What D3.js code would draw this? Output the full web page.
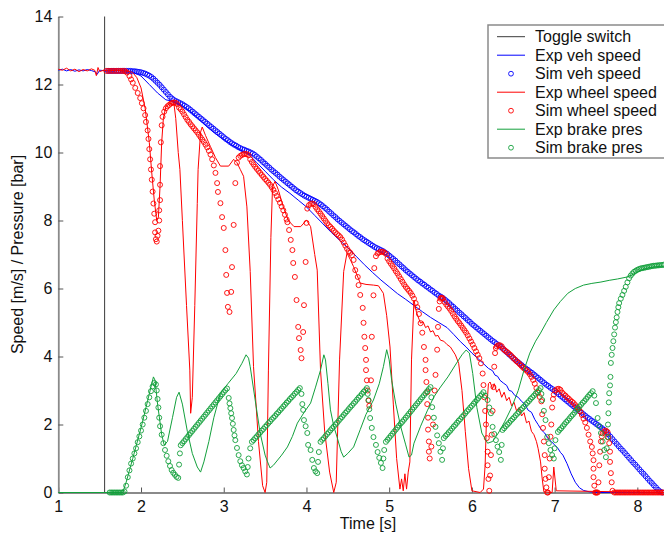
<!DOCTYPE html>
<html><head><meta charset="utf-8">
<script src="https://cdn.jsdelivr.net/npm/d3@7"></script>
<style>body{margin:0;background:#fff}svg{display:block}text{font-family:"Liberation Sans",Arial,sans-serif}</style>
</head><body><div id="chart"></div>
<script>
// ---------- DATA ----------
const xTicks = [1,2,3,4,5,6,7,8];
const yTicks = [0,2,4,6,8,10,12,14];
const legendLabels = ["Toggle switch","Exp veh speed","Sim veh speed","Exp wheel speed","Sim wheel speed","Exp brake pres","Sim brake pres"];
const toggleTime = 1.56;

const expVeh = [[1.0,12.42],[1.05,12.45],[1.1,12.40],[1.15,12.44],[1.2,12.39],[1.25,12.43],[1.3,12.40],[1.35,12.44],[1.4,12.41],[1.45,12.37],[1.47,12.30],[1.5,12.42],[1.6,12.40],[1.7,12.41],[1.8,12.40],[1.9,12.37],[2.0,12.25],[2.1,12.0],[2.2,11.75],[2.3,11.55],[2.4,11.5],[2.5,11.38],[2.6,11.2],[2.7,10.98],[2.8,10.75],[2.9,10.55],[3.0,10.38],[3.1,10.22],[3.2,10.08],[3.3,9.95],[3.4,9.7],[3.5,9.45],[3.6,9.2],[3.7,8.98],[3.8,8.8],[3.9,8.6],[4.0,8.4],[4.1,8.15],[4.2,7.9],[4.3,7.65],[4.4,7.42],[4.5,7.2],[4.6,6.95],[4.7,6.7],[4.8,6.47],[4.9,6.25],[5.0,6.05],[5.1,5.85],[5.2,5.68],[5.3,5.5],[5.4,5.32],[5.5,5.15],[5.6,5.0],[5.7,4.85],[5.78,4.65],[5.86,4.44],[5.93,4.28],[6.0,4.1],[6.1,3.88],[6.2,3.65],[6.25,3.58],[6.28,3.45],[6.31,3.42],[6.34,3.3],[6.38,3.22],[6.42,3.15],[6.45,3.0],[6.48,2.98],[6.52,2.85],[6.56,2.8],[6.6,2.68],[6.64,2.6],[6.68,2.42],[6.72,2.36],[6.76,2.15],[6.8,2.0],[6.84,1.84],[6.88,1.75],[6.92,1.58],[6.96,1.5],[7.0,1.4],[7.04,1.3],[7.07,1.18],[7.1,1.1],[7.15,0.85],[7.2,0.55],[7.25,0.3],[7.3,0.14],[7.35,0.06],[7.42,0.02],[7.5,0],[8.33,0]];

const simVeh = [[1.600,12.40],[1.625,12.40],[1.650,12.40],[1.675,12.40],[1.700,12.40],[1.725,12.40],[1.750,12.40],[1.775,12.40],[1.800,12.40],[1.825,12.40],[1.850,12.40],[1.875,12.40],[1.900,12.39],[1.925,12.39],[1.950,12.38],[1.975,12.37],[2.000,12.36],[2.025,12.34],[2.050,12.32],[2.075,12.29],[2.100,12.26],[2.125,12.22],[2.150,12.17],[2.175,12.11],[2.200,12.05],[2.225,11.99],[2.250,11.92],[2.275,11.85],[2.300,11.78],[2.325,11.71],[2.350,11.64],[2.375,11.59],[2.400,11.54],[2.425,11.51],[2.450,11.48],[2.475,11.45],[2.500,11.42],[2.525,11.38],[2.550,11.34],[2.575,11.30],[2.600,11.25],[2.625,11.20],[2.650,11.15],[2.675,11.10],[2.700,11.05],[2.725,11.00],[2.750,10.95],[2.775,10.90],[2.800,10.85],[2.825,10.80],[2.850,10.75],[2.875,10.70],[2.900,10.65],[2.925,10.60],[2.950,10.55],[2.975,10.50],[3.000,10.45],[3.025,10.40],[3.050,10.36],[3.075,10.31],[3.100,10.27],[3.125,10.23],[3.150,10.20],[3.175,10.16],[3.200,10.13],[3.225,10.10],[3.250,10.08],[3.275,10.05],[3.300,10.03],[3.325,10.00],[3.350,9.97],[3.375,9.93],[3.400,9.88],[3.425,9.83],[3.450,9.78],[3.475,9.72],[3.500,9.67],[3.525,9.61],[3.550,9.56],[3.575,9.50],[3.600,9.45],[3.625,9.40],[3.650,9.35],[3.675,9.29],[3.700,9.24],[3.725,9.19],[3.750,9.14],[3.775,9.09],[3.800,9.04],[3.825,8.99],[3.850,8.94],[3.875,8.89],[3.900,8.85],[3.925,8.81],[3.950,8.77],[3.975,8.73],[4.000,8.70],[4.025,8.67],[4.050,8.64],[4.075,8.61],[4.100,8.58],[4.125,8.55],[4.150,8.51],[4.175,8.47],[4.200,8.42],[4.225,8.37],[4.250,8.32],[4.275,8.26],[4.300,8.21],[4.325,8.15],[4.350,8.10],[4.375,8.04],[4.400,7.99],[4.425,7.94],[4.450,7.89],[4.475,7.84],[4.500,7.79],[4.525,7.74],[4.550,7.69],[4.575,7.65],[4.600,7.60],[4.625,7.55],[4.650,7.51],[4.675,7.46],[4.700,7.42],[4.725,7.38],[4.750,7.34],[4.775,7.30],[4.800,7.26],[4.825,7.22],[4.850,7.19],[4.875,7.16],[4.900,7.13],[4.925,7.10],[4.950,7.06],[4.975,7.02],[5.000,6.97],[5.025,6.92],[5.050,6.87],[5.075,6.82],[5.100,6.76],[5.125,6.71],[5.150,6.65],[5.175,6.60],[5.200,6.54],[5.225,6.49],[5.250,6.44],[5.275,6.39],[5.300,6.34],[5.325,6.29],[5.350,6.24],[5.375,6.20],[5.400,6.15],[5.425,6.11],[5.450,6.06],[5.475,6.02],[5.500,5.97],[5.525,5.93],[5.550,5.88],[5.575,5.84],[5.600,5.79],[5.625,5.76],[5.650,5.72],[5.675,5.67],[5.700,5.62],[5.725,5.57],[5.750,5.51],[5.775,5.46],[5.800,5.40],[5.825,5.35],[5.850,5.29],[5.875,5.24],[5.900,5.18],[5.925,5.13],[5.950,5.07],[5.975,5.02],[6.000,4.96],[6.025,4.91],[6.050,4.86],[6.075,4.81],[6.100,4.76],[6.125,4.71],[6.150,4.66],[6.175,4.61],[6.200,4.56],[6.225,4.51],[6.250,4.46],[6.275,4.42],[6.300,4.37],[6.325,4.33],[6.350,4.28],[6.375,4.23],[6.400,4.17],[6.425,4.12],[6.450,4.06],[6.475,4.01],[6.500,3.95],[6.525,3.90],[6.550,3.85],[6.575,3.80],[6.600,3.75],[6.625,3.70],[6.650,3.65],[6.675,3.61],[6.700,3.56],[6.725,3.52],[6.750,3.47],[6.775,3.42],[6.800,3.37],[6.825,3.32],[6.850,3.27],[6.875,3.22],[6.900,3.17],[6.925,3.13],[6.950,3.08],[6.975,3.04],[7.000,2.99],[7.025,2.94],[7.050,2.89],[7.075,2.84],[7.100,2.79],[7.125,2.74],[7.150,2.69],[7.175,2.64],[7.200,2.59],[7.225,2.54],[7.250,2.49],[7.275,2.44],[7.300,2.39],[7.325,2.35],[7.350,2.30],[7.375,2.25],[7.400,2.20],[7.425,2.16],[7.450,2.11],[7.475,2.07],[7.500,2.02],[7.525,1.98],[7.550,1.93],[7.575,1.89],[7.600,1.84],[7.625,1.78],[7.650,1.71],[7.675,1.64],[7.700,1.57],[7.725,1.50],[7.750,1.43],[7.775,1.36],[7.800,1.29],[7.825,1.23],[7.850,1.16],[7.875,1.09],[7.900,1.02],[7.925,0.95],[7.950,0.88],[7.975,0.82],[8.000,0.75],[8.025,0.68],[8.050,0.61],[8.075,0.55],[8.100,0.48],[8.125,0.41],[8.150,0.34],[8.175,0.28],[8.200,0.21],[8.225,0.15],[8.250,0.08],[8.275,0.03],[8.300,0.00]];

const expWheel = [[1.0,12.45],[1.05,12.42],[1.1,12.48],[1.15,12.40],[1.2,12.45],[1.25,12.38],[1.3,12.44],[1.35,12.40],[1.4,12.46],[1.44,12.42],[1.46,12.26],[1.48,12.50],[1.5,12.38],[1.55,12.42],[1.6,12.40],[1.7,12.42],[1.8,12.40],[1.87,12.38],[1.9,12.35],[1.95,12.2],[2.0,11.9],[2.05,11.3],[2.1,10.3],[2.13,9.4],[2.16,8.6],[2.19,8.0],[2.21,8.1],[2.23,9.0],[2.25,10.3],[2.27,11.0],[2.3,11.35],[2.35,11.45],[2.4,11.4],[2.42,11.0],[2.45,10.0],[2.47,9.5],[2.5,8.0],[2.55,5.5],[2.59,3.6],[2.6,2.33],[2.62,2.8],[2.65,5.5],[2.68,8.5],[2.69,9.5],[2.72,10.6],[2.74,10.75],[2.78,10.5],[2.84,10.17],[2.9,9.85],[2.96,9.6],[3.06,9.6],[3.12,9.8],[3.16,9.7],[3.2,9.5],[3.24,9.3],[3.28,8.4],[3.32,6.5],[3.36,3.7],[3.42,1.5],[3.47,0.2],[3.5,0],[3.52,0.3],[3.54,3.6],[3.57,7.5],[3.59,9.0],[3.62,9.15],[3.66,8.9],[3.72,8.4],[3.78,8.0],[3.85,7.82],[3.93,7.82],[4.0,8.01],[4.05,7.82],[4.1,7.0],[4.13,6.54],[4.17,3.6],[4.22,1.8],[4.28,0.6],[4.33,0],[4.36,0.3],[4.4,3.9],[4.45,6.5],[4.49,7.04],[4.53,6.85],[4.57,6.64],[4.65,6.16],[4.72,6.12],[4.81,6.1],[4.87,6.08],[4.93,5.86],[4.97,5.2],[5.01,4.28],[5.05,2.6],[5.09,1.0],[5.13,0.1],[5.15,0.4],[5.17,0.05],[5.19,0.55],[5.21,0.1],[5.23,0.6],[5.25,0.9],[5.27,3.9],[5.3,5.66],[5.33,5.3],[5.36,5.1],[5.38,4.98],[5.41,5.02],[5.44,4.85],[5.47,4.9],[5.5,4.72],[5.53,4.76],[5.56,4.6],[5.59,4.62],[5.62,4.48],[5.66,4.45],[5.7,4.35],[5.74,4.28],[5.8,4.05],[5.84,3.8],[5.88,3.0],[5.92,1.8],[5.96,0.7],[6.0,0.05],[6.1,0],[6.14,0.1],[6.16,0.8],[6.18,2.5],[6.2,3.2],[6.22,3.25],[6.25,3.05],[6.27,3.2],[6.3,2.95],[6.33,3.05],[6.36,2.8],[6.39,2.95],[6.42,2.7],[6.45,2.8],[6.48,2.55],[6.51,2.65],[6.54,2.4],[6.57,2.5],[6.6,2.25],[6.63,2.35],[6.66,2.05],[6.69,2.1],[6.72,1.8],[6.75,1.7],[6.78,1.5],[6.8,1.3],[6.83,0.9],[6.85,0.4],[6.87,0.02],[6.97,0],[6.99,0.75],[7.02,0.05],[8.33,0]];

const simWheel = [[1.58,12.4],[1.61,12.4],[1.64,12.4],[1.67,12.4],[1.70,12.4],[1.73,12.4],[1.76,12.4],[1.79,12.4],[1.81,12.39],
[1.83,12.35],[1.86,12.25],[1.88,12.15],[1.90,12.05],[1.93,11.9],[1.96,11.75],[1.99,11.6],[2.01,11.45],[2.03,11.3],[2.05,11.1],[2.06,10.9],[2.08,10.65],[2.09,10.4],[2.10,10.1],[2.11,9.8],[2.12,9.5],[2.13,9.2],[2.14,8.85],[2.15,8.5],[2.16,8.2],[2.17,7.95],[2.17,7.65],[2.18,7.45],[2.19,7.38],[2.20,7.55],[2.21,7.7],[2.22,8.0],[2.22,8.3],[2.23,8.6],[2.23,9.05],[2.23,9.6],[2.24,10.3],[2.25,10.8],[2.26,11.05],[2.28,11.2],[2.30,11.3],[2.32,11.36],[2.34,11.4],[2.36,11.44],[2.38,11.46],[2.40,11.47],[2.42,11.46],[2.44,11.42],
[2.46,11.32],[2.48,11.27],[2.50,11.2],[2.52,11.12],[2.54,11.04],[2.56,10.96],[2.58,10.9],[2.60,10.83],[2.62,10.77],[2.64,10.71],[2.66,10.65],[2.68,10.59],[2.70,10.52],[2.72,10.45],[2.74,10.38],[2.76,10.31],[2.78,10.23],[2.80,10.15],[2.82,10.05],[2.84,9.94],[2.86,9.8],[2.88,9.62],[2.90,9.4],[2.92,9.1],[2.93,8.84],[2.96,8.51],[2.98,8.1],[3.00,7.78],[3.02,7.13],[3.03,6.4],[3.04,5.87],[3.05,5.46],[3.07,5.31],[3.09,5.9],[3.10,6.63],[3.12,7.87],[3.14,9.1],[3.16,9.7],[3.18,9.85],[3.20,9.9],[3.22,9.93],[3.24,9.95],[3.26,9.96],[3.28,9.95],[3.30,9.92],
[3.32,9.8],[3.34,9.72],[3.36,9.65],[3.38,9.58],[3.40,9.52],[3.42,9.46],[3.44,9.4],[3.46,9.34],[3.48,9.28],[3.50,9.22],[3.52,9.17],[3.54,9.11],[3.56,9.05],[3.58,8.98],[3.60,8.9],[3.62,8.81],[3.64,8.72],[3.66,8.62],[3.68,8.52],[3.70,8.41],[3.72,8.3],[3.74,8.17],[3.76,8.03],[3.77,7.95],[3.79,7.72],[3.81,7.43],[3.83,7.13],[3.84,6.75],[3.86,6.34],[3.88,5.66],[3.90,4.87],[3.91,4.54],[3.93,4.19],[3.94,3.95],[3.96,4.72],[3.97,5.51],[3.99,6.78],[4.00,7.93],[4.01,8.35],[4.03,8.45],[4.05,8.49],[4.07,8.5],[4.09,8.48],
[4.11,8.4],[4.13,8.33],[4.15,8.27],[4.17,8.2],[4.19,8.13],[4.21,8.06],[4.23,7.99],[4.25,7.92],[4.27,7.86],[4.29,7.81],[4.31,7.76],[4.33,7.7],[4.35,7.65],[4.37,7.6],[4.39,7.56],[4.41,7.51],[4.43,7.44],[4.45,7.35],[4.47,7.26],[4.49,7.17],[4.51,7.1],[4.53,7.05],[4.55,6.98],[4.57,6.84],[4.59,6.54],[4.62,6.34],[4.63,6.1],[4.65,5.81],[4.68,5.43],[4.69,4.99],[4.70,4.58],[4.71,4.25],[4.72,3.9],[4.72,3.6],[4.73,3.3],[4.74,3.0],[4.75,2.7],[4.76,2.55],[4.78,3.3],[4.79,4.58],[4.81,5.8],[4.82,6.6],[4.84,6.95],[4.86,7.03],[4.88,7.06],[4.90,7.08],[4.92,7.08],[4.94,7.06],[4.96,7.02],
[4.98,6.88],[5.00,6.80],[5.02,6.73],[5.04,6.66],[5.06,6.59],[5.08,6.51],[5.10,6.44],[5.12,6.36],[5.14,6.28],[5.16,6.2],[5.18,6.12],[5.20,6.05],[5.22,5.99],[5.24,5.93],[5.26,5.87],[5.28,5.79],[5.30,5.7],[5.32,5.57],[5.34,5.45],[5.36,5.25],[5.38,4.98],[5.40,4.7],[5.42,4.28],[5.44,3.9],[5.44,3.6],[5.45,3.25],[5.46,2.95],[5.46,2.6],[5.47,2.2],[5.47,1.85],[5.48,1.5],[5.48,1.2],[5.49,1.0],[5.51,1.35],[5.53,2.0],[5.55,3.0],[5.56,3.46],[5.58,4.2],[5.59,4.87],[5.60,5.4],[5.61,5.62],[5.62,5.7],[5.63,5.73],[5.64,5.72],
[5.65,5.70],[5.67,5.6],[5.69,5.53],[5.71,5.47],[5.73,5.41],[5.75,5.34],[5.77,5.26],[5.79,5.18],[5.81,5.11],[5.83,5.04],[5.85,4.98],[5.87,4.91],[5.89,4.84],[5.91,4.77],[5.93,4.7],[5.95,4.62],[5.97,4.53],[5.99,4.44],[6.01,4.35],[6.03,4.25],[6.05,4.15],[6.07,4.05],[6.09,3.95],[6.11,3.8],[6.13,3.5],[6.14,3.16],[6.15,2.8],[6.16,2.4],[6.17,2.0],[6.18,1.6],[6.19,1.2],[6.19,0.8],[6.20,0.4],[6.21,0.05],[6.22,0.5],[6.23,1.1],[6.24,1.7],[6.25,2.4],[6.26,3.1],[6.27,3.7],[6.28,4.1],[6.29,4.25],[6.30,4.3],[6.32,4.33],[6.34,4.33],
[6.36,4.3],[6.38,4.22],[6.40,4.18],[6.42,4.14],[6.44,4.1],[6.46,4.06],[6.48,4.01],[6.50,3.96],[6.52,3.91],[6.54,3.86],[6.56,3.82],[6.58,3.77],[6.60,3.72],[6.62,3.67],[6.64,3.63],[6.66,3.59],[6.68,3.54],[6.70,3.48],[6.72,3.4],[6.74,3.31],[6.76,3.2],[6.78,3.07],[6.80,2.94],[6.82,2.81],[6.84,2.68],[6.85,2.3],[6.86,1.9],[6.87,1.5],[6.88,1.1],[6.88,0.7],[6.89,0.4],[6.90,0.15],[6.91,0.0],[6.92,0.0],[6.93,0.45],[6.94,1.0],[6.95,1.64],[6.96,2.0],[6.97,2.5],[6.98,2.75],[6.99,2.88],[7.01,3.0],[7.03,3.04],[7.05,3.05],
[7.07,3.02],[7.09,2.94],[7.11,2.89],[7.13,2.85],[7.15,2.8],[7.17,2.76],[7.19,2.71],[7.21,2.67],[7.23,2.63],[7.25,2.57],[7.27,2.51],[7.29,2.45],[7.31,2.38],[7.33,2.28],[7.35,2.17],[7.37,2.06],[7.39,1.9],[7.41,1.7],[7.43,1.5],[7.45,1.34],[7.46,1.15],[7.47,0.95],[7.47,0.7],[7.47,0.45],[7.48,0.2],[7.49,0],[7.50,0],[7.51,0],[7.52,0],[7.53,0.3],[7.54,0.8],[7.55,1.2],[7.56,1.5],[7.57,1.65],[7.58,1.74],[7.60,1.8],[7.62,1.82],[7.64,1.78],
[7.65,1.62],[7.66,1.45],[7.67,1.2],[7.67,0.9],[7.68,0.57],[7.69,0.3],[7.70,0.05],[7.72,0],[7.74,0],[7.76,0],[7.78,0],[7.80,0],[7.82,0],[7.84,0],[7.86,0],[7.88,0],[7.90,0],[7.92,0],[7.94,0],[7.96,0],[7.98,0],[8.00,0],[8.02,0],[8.04,0],[8.06,0],[8.08,0],[8.10,0],[8.12,0],[8.14,0],[8.16,0],[8.18,0],[8.20,0],[8.22,0],[8.24,0],[8.26,0],[8.28,0],[8.30,0],[8.32,0]];

const expBrake = [[1.0,0],[1.78,0],[1.82,0.3],[1.9,1.0],[2.0,1.9],[2.1,2.9],[2.15,3.4],[2.17,3.3],[2.2,2.6],[2.25,1.7],[2.28,1.4],[2.32,1.5],[2.38,2.2],[2.43,2.8],[2.46,2.95],[2.5,2.6],[2.56,1.8],[2.62,1.15],[2.68,0.75],[2.72,0.6],[2.76,0.9],[2.82,1.5],[2.88,2.2],[2.96,2.92],[3.05,3.2],[3.15,3.5],[3.22,3.8],[3.27,4.05],[3.3,3.95],[3.32,3.7],[3.38,2.72],[3.44,1.75],[3.5,1.1],[3.53,0.9],[3.56,0.72],[3.6,0.8],[3.7,1.1],[3.77,1.34],[3.83,1.65],[3.89,2.04],[3.97,2.35],[4.05,2.63],[4.11,3.1],[4.17,3.6],[4.21,4.05],[4.23,3.9],[4.26,3.2],[4.29,2.43],[4.33,1.95],[4.37,1.63],[4.42,1.2],[4.45,1.04],[4.5,1.15],[4.57,1.34],[4.65,1.85],[4.72,2.3],[4.81,2.72],[4.88,3.2],[4.93,3.7],[4.97,4.2],[5.0,3.9],[5.03,3.3],[5.08,2.6],[5.14,1.93],[5.2,1.4],[5.24,1.04],[5.27,1.1],[5.3,1.45],[5.38,1.95],[5.46,2.4],[5.54,2.81],[5.62,3.1],[5.71,3.4],[5.8,3.75],[5.88,4.05],[5.93,4.19],[5.97,4.1],[6.01,3.5],[6.06,2.5],[6.12,1.75],[6.19,1.45],[6.25,1.5],[6.32,1.75],[6.4,2.1],[6.48,2.5],[6.56,3.0],[6.63,3.6],[6.7,4.1],[6.77,4.45],[6.83,4.69],[6.9,5.0],[6.99,5.37],[7.07,5.62],[7.16,5.86],[7.25,6.0],[7.35,6.1],[7.45,6.15],[7.56,6.19],[7.66,6.24],[7.76,6.28],[7.88,6.34],[7.95,6.42],[8.03,6.52],[8.12,6.6],[8.22,6.64],[8.33,6.66]];

const simBrake = [[1.62,0],[1.64,0],[1.66,0],[1.68,0],[1.70,0],[1.72,0],[1.74,0],[1.76,0],[1.78,0],[1.80,0.03],
[1.82,0.2],[1.84,0.45],[1.86,0.65],[1.88,0.85],[1.90,1.0],[1.92,1.15],[1.94,1.3],[1.96,1.48],[1.98,1.65],[2.00,1.82],[2.02,2.0],[2.04,2.2],[2.06,2.4],[2.08,2.6],[2.10,2.8],[2.12,2.98],[2.14,3.12],[2.16,3.22],[2.18,3.18],
[2.19,3.0],[2.20,2.75],[2.21,2.5],[2.22,2.2],[2.23,1.95],[2.25,1.7],[2.27,1.45],[2.29,1.25],[2.31,1.08],[2.33,0.92],[2.35,0.78],[2.37,0.66],[2.39,0.58],[2.41,0.52],[2.43,0.46],[2.45,0.43],[2.46,0.82],[2.47,1.15],
[2.48,1.39],[2.50,1.45],[2.52,1.51],[2.54,1.57],[2.56,1.63],[2.58,1.69],[2.60,1.75],[2.62,1.81],[2.64,1.87],[2.66,1.93],[2.68,1.99],[2.70,2.05],[2.72,2.11],[2.74,2.17],[2.76,2.23],[2.78,2.29],[2.80,2.35],[2.82,2.41],[2.84,2.47],[2.86,2.53],[2.88,2.59],[2.90,2.65],[2.92,2.71],[2.94,2.77],[2.96,2.83],[2.98,2.89],[3.00,2.95],[3.02,3.01],[3.04,3.06],
[3.06,2.78],[3.07,2.62],[3.08,2.48],[3.09,2.33],[3.10,2.19],[3.11,2.02],[3.12,1.84],[3.13,1.68],[3.14,1.54],[3.16,1.31],[3.18,1.1],[3.20,0.92],[3.22,0.8],[3.24,0.72],[3.26,0.62],[3.28,0.53],[3.29,0.75],[3.30,1.0],[3.32,1.3],
[3.34,1.49],[3.36,1.54],[3.38,1.60],[3.40,1.65],[3.42,1.71],[3.44,1.76],[3.46,1.82],[3.48,1.87],[3.50,1.93],[3.52,1.98],[3.54,2.04],[3.56,2.09],[3.58,2.15],[3.60,2.20],[3.62,2.25],[3.64,2.31],[3.66,2.36],[3.68,2.42],[3.70,2.47],[3.72,2.53],[3.74,2.58],[3.76,2.64],[3.78,2.69],[3.80,2.75],[3.82,2.80],[3.84,2.85],[3.86,2.91],[3.88,2.96],[3.90,3.02],[3.92,3.07],
[3.94,2.9],[3.95,2.6],[3.96,2.43],[3.97,2.13],[3.99,1.95],[4.01,1.75],[4.02,1.4],[4.05,1.25],[4.07,0.96],[4.09,0.72],[4.11,0.62],[4.13,0.57],[4.14,0.9],[4.15,1.19],
[4.17,1.49],[4.19,1.55],[4.21,1.60],[4.23,1.66],[4.25,1.72],[4.27,1.77],[4.29,1.83],[4.31,1.89],[4.33,1.94],[4.35,2.00],[4.37,2.05],[4.39,2.11],[4.41,2.17],[4.43,2.22],[4.45,2.28],[4.47,2.34],[4.49,2.39],[4.51,2.45],[4.53,2.51],[4.55,2.56],[4.57,2.62],[4.59,2.67],[4.61,2.73],[4.63,2.79],[4.65,2.84],[4.67,2.90],[4.69,2.96],[4.71,3.01],[4.73,3.07],
[4.74,2.9],[4.75,2.72],[4.76,2.45],[4.77,2.19],[4.79,1.9],[4.81,1.63],[4.84,1.4],[4.86,1.19],[4.88,1.02],[4.90,0.87],[4.92,0.72],[4.93,1.0],[4.94,1.25],
[4.96,1.49],[4.98,1.55],[5.00,1.61],[5.02,1.67],[5.04,1.73],[5.06,1.79],[5.08,1.85],[5.10,1.91],[5.12,1.97],[5.14,2.03],[5.16,2.08],[5.18,2.14],[5.20,2.20],[5.22,2.26],[5.24,2.32],[5.26,2.38],[5.28,2.44],[5.30,2.50],[5.32,2.56],[5.34,2.62],[5.36,2.68],[5.38,2.74],[5.40,2.80],[5.42,2.86],[5.44,2.92],[5.46,2.98],[5.48,3.04],[5.50,3.10],
[5.51,2.8],[5.52,2.51],[5.54,2.2],[5.56,1.93],[5.58,1.68],[5.60,1.45],[5.62,1.2],[5.64,0.96],[5.65,1.3],
[5.66,1.60],[5.68,1.66],[5.70,1.71],[5.72,1.77],[5.74,1.82],[5.76,1.88],[5.78,1.94],[5.80,1.99],[5.82,2.05],[5.84,2.11],[5.86,2.16],[5.88,2.22],[5.90,2.27],[5.92,2.33],[5.94,2.39],[5.96,2.44],[5.98,2.50],[6.00,2.55],[6.02,2.61],[6.04,2.67],[6.06,2.72],[6.08,2.78],[6.10,2.84],[6.12,2.89],[6.14,2.95],
[6.16,2.85],[6.19,2.72],[6.21,2.5],[6.23,2.33],[6.25,1.93],[6.27,1.72],[6.29,1.54],[6.31,1.35],[6.33,1.19],[6.35,0.96],[6.36,1.4],
[6.37,1.84],[6.39,1.89],[6.41,1.95],[6.43,2.00],[6.45,2.05],[6.47,2.11],[6.49,2.16],[6.51,2.21],[6.53,2.27],[6.55,2.32],[6.57,2.37],[6.59,2.43],[6.61,2.48],[6.63,2.53],[6.65,2.59],[6.67,2.64],[6.69,2.69],[6.71,2.75],[6.73,2.80],[6.75,2.85],[6.77,2.91],[6.79,2.96],[6.81,3.01],[6.83,3.07],
[6.84,2.9],[6.85,2.72],[6.87,2.4],[6.89,2.13],[6.91,1.63],[6.93,1.45],[6.95,1.25],[6.97,1.1],[6.99,1.0],[7.00,1.3],[7.01,1.54],
[7.04,1.78],[7.06,1.84],[7.08,1.89],[7.10,1.95],[7.12,2.01],[7.14,2.07],[7.16,2.12],[7.18,2.18],[7.20,2.24],[7.22,2.29],[7.24,2.35],[7.26,2.41],[7.28,2.47],[7.30,2.52],[7.32,2.58],[7.34,2.64],[7.36,2.69],[7.38,2.75],[7.40,2.81],[7.42,2.87],[7.44,2.92],[7.46,2.98],
[7.48,2.85],[7.50,2.63],[7.52,2.19],[7.54,1.95],[7.56,1.75],[7.58,1.5],[7.60,1.25],[7.62,1.04],
[7.63,1.3],[7.64,1.63],[7.645,2.0],[7.65,2.33],[7.655,2.65],[7.66,2.92],[7.67,3.15],[7.675,3.4],[7.68,3.81],[7.69,4.05],[7.70,4.25],[7.71,4.45],[7.72,4.65],[7.73,4.85],[7.74,5.01],[7.75,5.15],[7.76,5.31],[7.77,5.45],[7.78,5.57],[7.80,5.7],[7.82,5.81],[7.84,5.93],[7.86,6.05],[7.88,6.18],[7.90,6.3],[7.92,6.38],[7.94,6.44],[7.96,6.49],[7.98,6.52],[8.00,6.55],[8.02,6.57],[8.04,6.59],[8.06,6.6],[8.08,6.61],[8.10,6.62],[8.12,6.63],[8.14,6.64],[8.16,6.65],[8.18,6.66],[8.20,6.67],[8.22,6.67],[8.24,6.68],[8.26,6.68],[8.28,6.69],[8.30,6.69],[8.32,6.7]];

// ---------- CHART ----------
const W = 664, H = 535;
const COL = {toggle:"#3a3a3a", blue:"#0000ff", red:"#ff0000", green:"#13a03c"};
const FONT = '"Liberation Sans",Arial,sans-serif';
const svg = d3.select("#chart").append("svg").attr("width", W).attr("height", H);
const x = d3.scaleLinear().domain([1, 8.5]).range([58.3, 678.7]);
const y = d3.scaleLinear().domain([0, 14]).range([492.5, 16.5]);

const gx = svg.append("g").attr("transform", `translate(0,${y(0)})`)
  .call(d3.axisBottom(x).tickValues(xTicks).tickFormat(d3.format("d")).tickSizeInner(-5).tickSizeOuter(0).tickPadding(8));
const gy = svg.append("g").attr("transform", `translate(${x(1)},0)`)
  .call(d3.axisLeft(y).tickValues(yTicks).tickFormat(d3.format("d")).tickSizeInner(-5).tickSizeOuter(0).tickPadding(6));
[gx, gy].forEach(g => {
  g.select(".domain").attr("stroke", "#8a8a8a").attr("stroke-width", 1.8);
  g.selectAll(".tick line").attr("stroke", "#555");
  g.selectAll(".tick text").attr("font-size", 16).attr("fill", "#111").attr("font-family", FONT);
});

svg.append("text").attr("x", 368).attr("y", 529).attr("text-anchor", "middle").attr("font-size", 16).attr("fill", "#111").text("Time [s]");
svg.append("text").attr("transform", `translate(23,${(y(0)+y(14))/2}) rotate(-90)`).attr("text-anchor", "middle").attr("font-size", 16).attr("fill", "#111").text("Speed [m/s] / Pressure [bar]");

const plot = svg.append("g");
const line = d3.line().x(d => x(d[0])).y(d => y(d[1]));
function drawLine(data, color, w) {
  plot.append("path").datum(data).attr("d", line).attr("fill", "none").attr("stroke", color).attr("stroke-width", w).attr("stroke-linejoin", "round");
}
function drawCircles(data, color) {
  plot.append("g").selectAll("circle").data(data).join("circle")
    .attr("cx", d => x(d[0])).attr("cy", d => y(d[1])).attr("r", 2.5)
    .attr("fill", "none").attr("stroke", color).attr("stroke-width", 1).attr("stroke-opacity", 0.9);
}
plot.append("line").attr("x1", x(toggleTime)).attr("x2", x(toggleTime)).attr("y1", y(0)).attr("y2", y(14))
  .attr("stroke", COL.toggle).attr("stroke-width", 1);
drawLine(expVeh, COL.blue, 1);
drawCircles(simVeh, COL.blue);
drawLine(expWheel, COL.red, 1);
drawCircles(simWheel, COL.red);
drawLine(expBrake, COL.green, 1);
drawCircles(simBrake, COL.green);

// legend
const lg = svg.append("g");
lg.append("rect").attr("x", 488).attr("y", 25).attr("width", 190).attr("height", 133)
  .attr("fill", "#fff").attr("stroke", "#8a8a8a").attr("stroke-width", 1.5);
const legendStyle = [["line",COL.toggle],["line",COL.blue],["circle",COL.blue],["line",COL.red],["circle",COL.red],["line",COL.green],["circle",COL.green]];
legendLabels.forEach((lab, i) => {
  const yy = 36.7 + i * 18.5;
  const [kind, c] = legendStyle[i];
  if (kind === "line") lg.append("line").attr("x1", 497).attr("x2", 525).attr("y1", yy).attr("y2", yy).attr("stroke", c).attr("stroke-width", 1);
  else lg.append("circle").attr("cx", 511).attr("cy", yy).attr("r", 2.4).attr("fill", "none").attr("stroke", c).attr("stroke-width", 0.9);
  lg.append("text").attr("x", 535).attr("y", yy).attr("dy", "0.35em").attr("font-size", 16).attr("fill", "#111").text(lab);
});
</script></body></html>
